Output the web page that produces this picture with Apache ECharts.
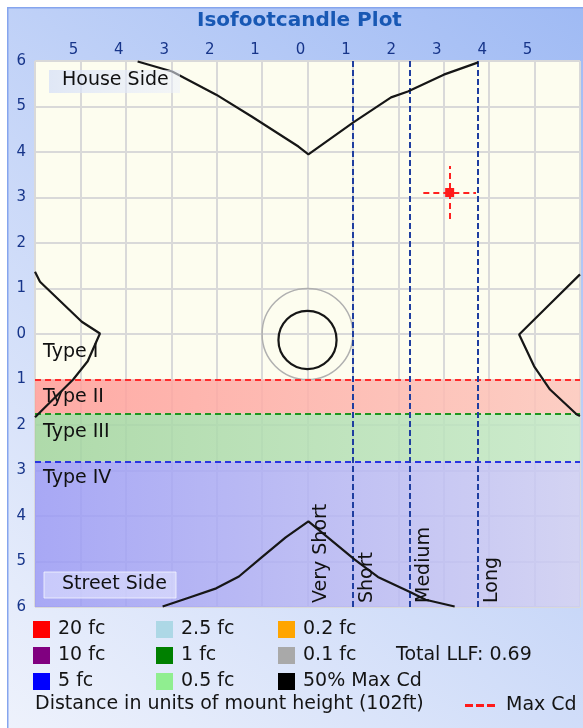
<!DOCTYPE html>
<html>
<head>
<meta charset="utf-8">
<title>Isofootcandle Plot</title>
<script src="https://cdn.jsdelivr.net/npm/echarts@6/dist/echarts.min.js"></script>
<style>
html, body { margin: 0; padding: 0; background: #fff; }
#main { width: 583px; height: 728px; }
</style>
</head>
<body>
<div id="main"></div>
<script>
// axis ticks (units of mount height)
var xTicks = [-6, -5, -4, -3, -2, -1, 0, 1, 2, 3, 4, 5, 6];
var xTickLabels = ['', '5', '4', '3', '2', '1', '0', '1', '2', '3', '4', '5', ''];
var yTicks = [-6, -5, -4, -3, -2, -1, 0, 1, 2, 3, 4, 5, 6];
var yTickLabels = ['6', '5', '4', '3', '2', '1', '0', '1', '2', '3', '4', '5', '6'];

// 50% max cd contour
var houseCurve = [[-3.74, 5.99], [-2.98, 5.77], [-2.01, 5.26], [-1.23, 4.78], [-0.2, 4.12], [0.02, 3.95],
	[1.01, 4.65], [1.84, 5.2], [2.21, 5.33], [3.0, 5.7], [3.76, 5.97]];
var leftCurve = [[-6, 1.37], [-5.89, 1.15], [-4.97, 0.27], [-4.57, 0.01], [-4.84, -0.6], [-5.16, -1.0], [-6, -1.83]];
var rightCurve = [[6, 1.31], [5.3, 0.62], [4.66, -0.01], [4.99, -0.71], [5.34, -1.22], [5.93, -1.77], [6, -1.8]];
var streetCurve = [[-3.19, -5.99], [-2.6, -5.79], [-2.01, -5.59], [-1.51, -5.33], [-1.01, -4.91], [-0.48, -4.47],
	[0.02, -4.12], [1.04, -4.96], [1.55, -5.34], [2.28, -5.68], [2.6, -5.84], [3.24, -5.99]];

// circles: [x, y, radius]
var outerCircle = [[0, 0, 1.0]];
var innerCircle = [[0, -0.13, 0.64]];

// max candela point
var maxCd = [3.13, 3.11];
var maxCdArm = 0.58;

// vertical (type) classification
var typeNames = ['Type I', 'Type II', 'Type III', 'Type IV'];
var typeLabelY = [-0.39, -1.38, -2.16, -3.16];
var typeBounds = [-1, -1.75, -2.8, -6];

// lateral (distance) classification
var lateralNames = ['Very Short', 'Short', 'Medium', 'Long'];
var lateralStart = [0, 1, 2.25, 3.75];

var fcLevels = ['20 fc', '10 fc', '5 fc', '2.5 fc', '1 fc', '0.5 fc', '0.2 fc', '0.1 fc', '50% Max Cd'];
var mountHeight = 102;
var totalLLF = 0.69;

var FONT = 'DejaVu Sans';
var fcColors = ['#ff0000', '#800080', '#0000ff', '#add8e6', '#008000', '#90ee90', '#ffa500', '#a9a9a9', '#000000'];

function hgrad(c1, c2) {
	return { type: 'linear', x: 0, y: 0, x2: 1, y2: 0, colorStops: [{ offset: 0, color: c1 }, { offset: 1, color: c2 }] };
}

function circleRender(color, width) {
	return function (params, api) {
		var c = api.coord([api.value(0), api.value(1)]);
		var s = api.size([api.value(2), api.value(2)]);
		return {
			type: 'ellipse',
			shape: { cx: c[0], cy: c[1], rx: s[0], ry: s[1] },
			style: { fill: 'none', stroke: color, lineWidth: width }
		};
	};
}

function legendCol(left, names) {
	return {
		left: left, top: 620, padding: 0, orient: 'vertical',
		icon: 'rect', itemWidth: 17, itemHeight: 17, itemGap: 7,
		selectedMode: false,
		data: names,
		textStyle: { fontFamily: FONT, fontSize: 19, color: '#141414', lineHeight: 17, padding: [0, 0, 0, 3] }
	};
}

var myChart = echarts.init(document.getElementById('main'));

var series = [];

// bands and type labels
series.push({
	name: 'types', type: 'scatter', symbolSize: 0, silent: true, z: 1,
	itemStyle: { opacity: 1 },
	data: typeLabelY.map(function (y) { return [-6, y]; }),
	label: {
		show: true, position: [8, 0], align: 'left', verticalAlign: 'middle',
		fontFamily: FONT, fontSize: 19, color: '#111',
		formatter: function (p) { return typeNames[p.dataIndex]; }
	},
	markArea: {
		silent: true,
		data: [
			[{ yAxis: typeBounds[0], itemStyle: { color: hgrad('rgba(255,156,152,0.85)', 'rgba(252,198,188,0.85)') } }, { yAxis: typeBounds[1] }],
			[{ yAxis: typeBounds[1], itemStyle: { color: hgrad('rgba(161,212,158,0.85)', 'rgba(196,232,199,0.85)') } }, { yAxis: typeBounds[2] }],
			[{ yAxis: typeBounds[2], itemStyle: { color: hgrad('rgba(153,153,246,0.85)', 'rgba(204,204,243,0.85)') } }, { yAxis: typeBounds[3] }]
		]
	},
	markLine: {
		silent: true, symbol: 'none', label: { show: false },
		lineStyle: { type: [6, 4], width: 2 },
		data: [
			{ yAxis: typeBounds[0], lineStyle: { color: '#ff2b2b' } },
			{ yAxis: typeBounds[1], lineStyle: { color: '#1e961e' } },
			{ yAxis: typeBounds[2], lineStyle: { color: '#2a35e0' } }
		]
	}
});

// legend only entries
fcLevels.forEach(function (name, i) {
	if (name === '0.1 fc' || name === '50% Max Cd') return;
	series.push({ name: name, type: 'line', data: [], itemStyle: { color: fcColors[i] }, lineStyle: { color: fcColors[i] } });
});

series.push({
	name: '0.1 fc', type: 'custom', data: outerCircle, z: 4, silent: true,
	itemStyle: { color: fcColors[7] },
	renderItem: circleRender('#b0b0b0', 1.5)
});
series.push({
	name: '50% Max Cd', type: 'custom', data: innerCircle, z: 5, silent: true,
	itemStyle: { color: '#000' },
	renderItem: circleRender('#161616', 2.2)
});

[houseCurve, leftCurve, rightCurve, streetCurve].forEach(function (c) {
	series.push({
		name: '50% Max Cd', type: 'line', data: c, symbol: 'none', showSymbol: false,
		lineStyle: { color: '#161616', width: 2.2 }, itemStyle: { color: '#000' }, z: 5, silent: true
	});
});

// lateral lines and names
series.push({
	name: 'lateral', type: 'scatter', symbolSize: 0, silent: true, z: 6,
	itemStyle: { opacity: 1 },
	data: lateralStart.map(function (x) { return [x, -6]; }),
	label: {
		show: true, position: [14, -4], rotate: 90, align: 'left', verticalAlign: 'middle',
		fontFamily: FONT, fontSize: 19, color: '#111',
		formatter: function (p) { return lateralNames[p.dataIndex]; }
	},
	markLine: {
		silent: true, symbol: 'none', label: { show: false },
		lineStyle: { color: '#1f3ea0', type: [6, 3], width: 2 },
		data: lateralStart.slice(1).map(function (x) { return { xAxis: x }; })
	}
});

// max cd
series.push({
	name: 'Max Cd', type: 'scatter', data: [maxCd], symbol: 'rect', symbolSize: 9, z: 7, silent: true,
	itemStyle: { color: '#ff1a1a', opacity: 1 },
	markLine: {
		silent: true, symbol: 'none', label: { show: false },
		lineStyle: { color: '#ff2020', type: [6, 4], width: 2 },
		data: [
			[{ coord: [maxCd[0] - maxCdArm, maxCd[1]] }, { coord: [maxCd[0] + maxCdArm, maxCd[1]] }],
			[{ coord: [maxCd[0], maxCd[1] - maxCdArm] }, { coord: [maxCd[0], maxCd[1] + maxCdArm] }]
		]
	}
});

var option = {
	animation: false,
	backgroundColor: {
		type: 'linear', x: 0, y: 1, x2: 1, y2: 0,
		colorStops: [{ offset: 0, color: '#eef2fc' }, { offset: 0.5, color: '#c8d7f8' }, { offset: 1, color: '#9fbaf4' }]
	},
	title: {
		text: 'Isofootcandle Plot', left: 197, top: 11, padding: 0,
		textStyle: { fontFamily: FONT, fontSize: 20, fontWeight: 'bold', color: '#1858b4' }
	},
	grid: {
		left: 35, top: 61, right: 0, bottom: 121,
		show: true, backgroundColor: '#fdfdef', borderWidth: 0
	},
	xAxis: {
		type: 'value', position: 'top', min: -6, max: 6, interval: 1,
		axisLine: { show: false }, axisTick: { show: false },
		splitLine: { lineStyle: { color: '#d9d9d9', width: 2 } },
		axisLabel: {
			margin: 3, color: '#17358a', fontFamily: FONT, fontSize: 15, padding: [0, 14, 0, 0],
			formatter: function (v) { return xTickLabels[xTicks.indexOf(v)]; }
		}
	},
	yAxis: {
		type: 'value', min: -6, max: 6, interval: 1,
		axisLine: { show: false }, axisTick: { show: false },
		splitLine: { lineStyle: { color: '#d9d9d9', width: 2 } },
		axisLabel: {
			margin: 9, color: '#17358a', fontFamily: FONT, fontSize: 15, showMinLabel: true, showMaxLabel: true,
			formatter: function (v) { return yTickLabels[yTicks.indexOf(v)]; }
		}
	},
	legend: [
		legendCol(33, fcLevels.slice(0, 3)),
		legendCol(156, fcLevels.slice(3, 6)),
		legendCol(278, fcLevels.slice(6, 9)),
		{
			left: 465, top: 696, padding: 0, selectedMode: false,
			icon: 'path://M0,0H8V3H0Z M11,0H19V3H11Z M22,0H30V3H22Z', itemWidth: 30, itemHeight: 3,
			data: ['Max Cd'],
			textStyle: { fontFamily: FONT, fontSize: 19, color: '#141414', lineHeight: 17, padding: [0, 0, 0, 6] }
		}
	],
	graphic: [
		{ type: 'rect', shape: { x: 0, y: 0, width: 583, height: 7 }, style: { fill: '#fff' }, silent: true },
		{ type: 'rect', shape: { x: 0, y: 0, width: 7, height: 728 }, style: { fill: '#fff' }, silent: true },
		{ type: 'rect', shape: { x: 7, y: 7, width: 576, height: 1.5 }, style: { fill: '#86a5ee' }, silent: true },
		{ type: 'rect', shape: { x: 7, y: 7, width: 1.5, height: 721 }, style: { fill: '#86a5ee' }, silent: true },
		{
			type: 'rect', z: 50, shape: { x: 49, y: 70, width: 131, height: 23 }, silent: true,
			style: { fill: hgrad('rgba(214,224,248,0.75)', 'rgba(236,240,252,0.55)') }
		},
		{
			type: 'text', z: 51, left: 62, top: 71, silent: true,
			style: { text: 'House Side', font: '19px "DejaVu Sans"', fill: '#111' }
		},
		{
			type: 'rect', z: 50, shape: { x: 44, y: 572, width: 132, height: 26 }, silent: true,
			style: { fill: hgrad('rgba(222,224,255,0.6)', 'rgba(232,234,255,0.55)'), stroke: 'rgba(245,246,255,0.8)', lineWidth: 1 }
		},
		{
			type: 'text', z: 51, left: 62, top: 575, silent: true,
			style: { text: 'Street Side', font: '19px "DejaVu Sans"', fill: '#111' }
		},
		{
			type: 'text', left: 396, top: 646, silent: true,
			style: { text: 'Total LLF: ' + totalLLF.toFixed(2), font: '19px "DejaVu Sans"', fill: '#141414' }
		},
		{
			type: 'text', left: 35, top: 695, silent: true,
			style: { text: 'Distance in units of mount height (' + mountHeight + 'ft)', font: '19px "DejaVu Sans"', fill: '#141414' }
		}
	],
	series: series
};

myChart.setOption(option);
</script>
</body>
</html>
